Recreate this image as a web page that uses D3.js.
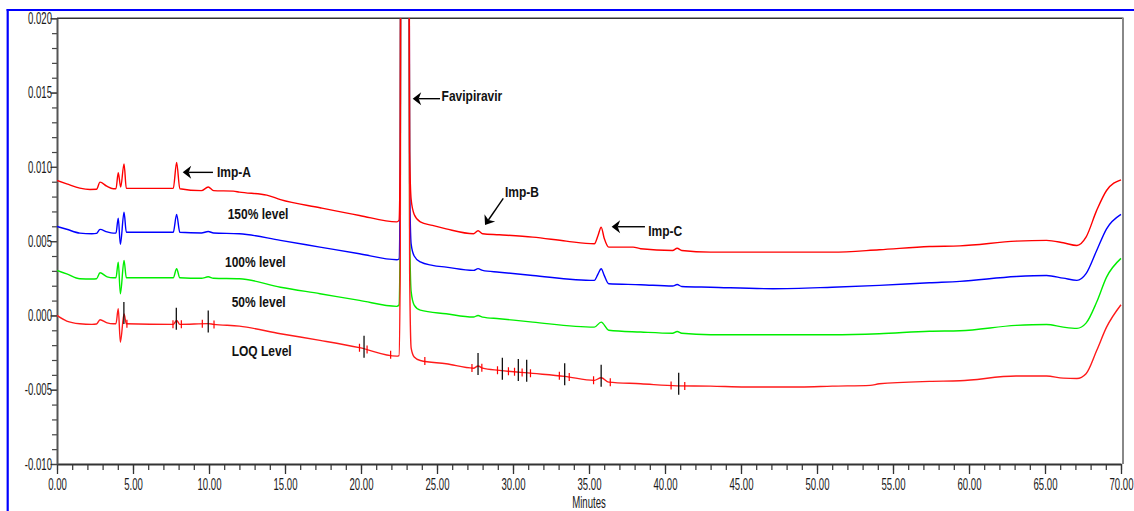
<!DOCTYPE html>
<html>
<head>
<meta charset="utf-8">
<script src="https://cdn.jsdelivr.net/npm/d3@7"></script>
<style>
  html, body { margin: 0; padding: 0; background: #fff; }
  svg { display: block; }
</style>
</head>
<body>
<svg id="chart" width="1134" height="511"></svg>
<script>
// Chromatograms: [retention time (min), absorbance (AU)]
const level150 = [
  [0, 0.00908], [0.64, 0.00886], [1.5, 0.00857], [2.17, 0.00848], [2.6, 0.00849],
  [2.83, 0.00897], [3.27, 0.0087], [3.7, 0.00853], [3.88, 0.00853], [4.03, 0.0096],
  [4.19, 0.00864], [4.41, 0.0102], [4.56, 0.00855], [7.65, 0.00855], [7.87, 0.0103],
  [8.08, 0.00853], [9.5, 0.0084], [9.95, 0.00864], [10.3, 0.0084], [11.6, 0.00837],
  [12.0, 0.0083], [13.8, 0.0081], [14.7, 0.0078], [17.3, 0.00725], [19.9, 0.00673],
  [22.35, 0.0063], [22.5, 0.0064], [22.58, 0.011], [22.65, 0.06], [23.1, 0.06],
  [23.2, 0.011], [23.3, 0.0078], [23.5, 0.0068], [23.9, 0.0063], [24.7, 0.00606],
  [25.6, 0.00583], [27.4, 0.0055], [27.7, 0.0057], [28.0, 0.0055], [29.1, 0.00543],
  [31.3, 0.00527], [33.5, 0.005], [35.35, 0.00482], [35.6, 0.0054], [35.8, 0.00594],
  [36.0, 0.0052], [36.3, 0.0046], [37.9, 0.0046], [38.4, 0.00449], [40.5, 0.00437],
  [40.8, 0.00452], [41.1, 0.00437], [43.0, 0.00426], [47.0, 0.00426], [51.0, 0.00426],
  [54.1, 0.00442], [57.4, 0.00464], [59.4, 0.00468], [63.1, 0.005], [65.1, 0.00505],
  [66.2, 0.00489], [67.1, 0.00471], [67.7, 0.00527], [68.4, 0.00707], [69.05, 0.00841],
  [70, 0.00913]
];
const level100 = [
  [0, 0.00599], [0.64, 0.0058], [1.5, 0.00554], [2.3, 0.0055], [2.6, 0.00552],
  [2.83, 0.00579], [3.3, 0.00562], [3.7, 0.00554], [3.88, 0.00554], [4.03, 0.00655],
  [4.17, 0.00478], [4.41, 0.00695], [4.56, 0.0056], [7.65, 0.0056], [7.87, 0.0068],
  [8.08, 0.0056], [9.5, 0.00555], [9.95, 0.00565], [10.3, 0.00555], [12.0, 0.0055],
  [14.7, 0.00505], [17.3, 0.0046], [19.9, 0.00415], [22.35, 0.00375], [22.5, 0.0038],
  [22.58, 0.009], [22.65, 0.06], [23.1, 0.06], [23.2, 0.009], [23.3, 0.0048],
  [23.5, 0.004], [23.9, 0.0036], [24.7, 0.00337], [25.6, 0.00325], [27.4, 0.00303],
  [27.7, 0.00315], [28.0, 0.00303], [29.1, 0.00291], [31.3, 0.00269], [35.35, 0.00236],
  [35.6, 0.0028], [35.8, 0.00314], [36.0, 0.0027], [36.3, 0.00213], [38.4, 0.00207],
  [40.5, 0.00198], [40.8, 0.00208], [41.1, 0.00195], [43.0, 0.0019], [47.1, 0.0018],
  [51.0, 0.0019], [54.1, 0.00202], [57.4, 0.0022], [59.4, 0.00229], [63.1, 0.00262],
  [65.1, 0.00269], [66.2, 0.00251], [67.1, 0.00236], [67.7, 0.00281], [68.4, 0.00437],
  [69.05, 0.00583], [70, 0.0068]
];
const level50 = [
  [0, 0.00303], [0.64, 0.0028], [1.5, 0.00247], [2.3, 0.00245], [2.6, 0.00247],
  [2.83, 0.00287], [3.3, 0.0026], [3.7, 0.00254], [3.88, 0.00254], [4.03, 0.00359],
  [4.17, 0.00146], [4.41, 0.0037], [4.56, 0.00254], [7.65, 0.00254], [7.87, 0.00314],
  [8.08, 0.00254], [9.5, 0.0025], [9.95, 0.0026], [10.3, 0.0025], [12.0, 0.00247],
  [14.7, 0.0019], [17.3, 0.00146], [19.9, 0.00101], [22.35, 0.00061], [22.5, 0.0007],
  [22.58, 0.006], [22.65, 0.06], [23.1, 0.06], [23.2, 0.006], [23.3, 0.0016],
  [23.5, 0.0007], [23.9, 0.00036], [25.6, 0.00011], [27.4, -0.00011], [27.7, 0.0],
  [28.0, -0.00011], [29.1, -0.00022], [31.3, -0.00045], [35.35, -0.00079], [35.8, -0.00045],
  [36.3, -0.001], [38.4, -0.00112], [40.5, -0.0012], [40.8, -0.00108], [41.1, -0.0012],
  [43.0, -0.0013], [51.0, -0.0013], [54.1, -0.00123], [57.4, -0.00106], [59.4, -0.00103],
  [63.1, -0.00067], [65.1, -0.00061], [66.2, -0.00079], [67.1, -0.00087], [67.7, -0.00052],
  [68.4, 0.0009], [69.05, 0.00258], [70, 0.00384]
];
const levelLOQ = [
  [0, 0.0], [0.64, -0.00038], [1.5, -0.00056], [2.3, -0.0006], [2.6, -0.00058],
  [2.83, -0.00029], [3.3, -0.0005], [3.7, -0.00056], [3.88, -0.00056], [4.03, 0.00045],
  [4.17, -0.0018], [4.41, 0.0001], [4.56, -0.00056], [7.65, -0.0006], [7.87, -0.00034],
  [8.08, -0.0006], [9.95, -0.00055], [10.3, -0.0006], [12.0, -0.00072], [14.7, -0.00123],
  [17.3, -0.00168], [19.9, -0.00217], [22.35, -0.00274], [22.5, -0.0027], [22.58, 0.003],
  [22.65, 0.06], [23.1, 0.06], [23.2, 0.003], [23.3, -0.0022], [23.5, -0.0028],
  [23.9, -0.00303], [25.6, -0.00325], [27.4, -0.00355], [27.7, -0.0034], [28.0, -0.00355],
  [29.1, -0.0037], [31.3, -0.0039], [33.4, -0.0041], [35.35, -0.00437], [35.8, -0.00419],
  [36.3, -0.00449], [38.4, -0.0046], [40.8, -0.00474], [43.0, -0.00476], [45.3, -0.00482],
  [48.9, -0.00482], [51.0, -0.00476], [53.5, -0.00471], [54.1, -0.0046], [57.4, -0.00444],
  [59.4, -0.0044], [63.1, -0.00408], [65.1, -0.00408], [66.2, -0.00422], [67.1, -0.00424],
  [67.7, -0.00392], [68.4, -0.00236], [69.05, -0.00079], [70, 0.00072]
];

// Axis ticks
const xTickValues = [0, 5, 10, 15, 20, 25, 30, 35, 40, 45, 50, 55, 60, 65, 70];
const yTickValues = [-0.010, -0.005, 0.000, 0.005, 0.010, 0.015, 0.020];

// Integration events on the LOQ run (retention times, min)
const apexMarks = [4.4, 7.85, 9.95, 20.2, 27.7, 29.3, 30.35, 30.9, 33.4, 35.8, 40.9];
const limitMarks = [4.6, 7.63, 8.18, 9.56, 10.33, 19.9, 20.4, 21.95, 24.2, 27.3, 27.95,
                    28.98, 29.7, 30.1, 30.6, 31.15, 33.05, 33.7, 35.3, 36.4, 40.4, 41.3];

// Peak call-outs: arrow tip, arrow tail and label anchor in (min, AU)
const peakNames = ["Imp-A", "Favipiravir", "Imp-B", "Imp-C"];
const peakTips  = [[8.27, 0.00963], [23.4, 0.01459], [28.16, 0.00609], [36.49, 0.00597]];
const peakTails = [[10.26, 0.00963], [25.2, 0.01459], [29.36, 0.00788], [38.68, 0.00597]];
const peakText  = [[10.52, 0.00931], [25.3, 0.01443], [29.47, 0.00797], [38.9, 0.00534]];

// Trace captions
const levelNames = ["150% level", "100% level", "50% level", "LOQ Level"];
const levelText  = [[11.23, 0.00647], [11.05, 0.00324], [11.49, 0.000545], [11.49, -0.0027]];

const svg = d3.select("#chart");
const x = d3.scaleLinear().domain([0, 70]).range([57, 1121]);
const y = d3.scaleLinear().domain([-0.010, 0.020]).range([464, 18.3]);

// outer blue frame
svg.append("line").attr("x1", 7.7).attr("x2", 7.7).attr("y1", 9).attr("y2", 511)
  .attr("stroke", "#0000ff").attr("stroke-width", 2.2);
svg.append("line").attr("x1", 6.6).attr("x2", 1134).attr("y1", 10).attr("y2", 10)
  .attr("stroke", "#0000ff").attr("stroke-width", 2.2);

// plot frame: top and right edges
svg.append("line").attr("x1", 57).attr("x2", 1123.5).attr("y1", 18.3).attr("y2", 18.3)
  .attr("stroke", "#333").attr("stroke-width", 1.5);
svg.append("line").attr("x1", 1123).attr("x2", 1123).attr("y1", 18).attr("y2", 464)
  .attr("stroke", "#888").attr("stroke-width", 2);

const fmt = d3.formatLocale({decimal: ".", thousands: ",", grouping: [3], currency: ["", ""], minus: "-"});
const yFmt = fmt.format(".3f");
const xFmt = fmt.format(".2f");

const K = 0.6; // condensed axis lettering

function condense(sel, k) {
  sel.each(function () {
    const t = d3.select(this);
    const xx = +t.attr("x") || 0;
    t.attr("x", xx / k).attr("transform", `scale(${k},1)`);
  });
}

// minor ticks
svg.append("g").attr("transform", "translate(0,464)")
  .call(d3.axisBottom(x).tickValues(d3.range(0, 71, 1)).tickSize(6).tickFormat(""))
  .call(g => g.select(".domain").remove())
  .call(g => g.selectAll("line").attr("stroke", "#333").attr("stroke-width", 1.2));
svg.append("g").attr("transform", "translate(57,0)")
  .call(d3.axisLeft(y).tickValues(d3.range(-10, 21, 1).map(d => d / 1000)).tickSize(5).tickFormat(""))
  .call(g => g.select(".domain").remove())
  .call(g => g.selectAll("line").attr("stroke", "#444").attr("stroke-width", 1.2));

// major axes
const xAxis = svg.append("g").attr("transform", "translate(0,464)")
  .call(d3.axisBottom(x).tickValues(xTickValues).tickFormat(xFmt).tickSize(10).tickSizeOuter(0).tickPadding(5));
xAxis.select(".domain").attr("stroke", "#333").attr("stroke-width", 2);
xAxis.selectAll("line").attr("stroke", "#333").attr("stroke-width", 1.3);
xAxis.selectAll("text").attr("font-family", "'Liberation Sans', Arial, sans-serif")
  .attr("font-size", 16).attr("fill", "#1a1a1a").call(condense, K);

const yAxis = svg.append("g").attr("transform", "translate(57,0)")
  .call(d3.axisLeft(y).tickValues(yTickValues).tickFormat(yFmt).tickSize(6.5).tickSizeOuter(0).tickPadding(-1.5));
yAxis.select(".domain").attr("stroke", "#555").attr("stroke-width", 2);
yAxis.selectAll("line").attr("stroke", "#444").attr("stroke-width", 1.3);
yAxis.selectAll("text").attr("font-family", "'Liberation Sans', Arial, sans-serif")
  .attr("font-size", 16).attr("fill", "#1a1a1a").call(condense, K);

svg.append("text")
  .attr("transform", `translate(${(x(0) + x(70)) / 2},507.5) scale(${K},1)`)
  .attr("text-anchor", "middle")
  .attr("font-family", "'Liberation Sans', Arial, sans-serif")
  .attr("font-size", 16).attr("fill", "#1a1a1a")
  .text("Minutes");

// chromatogram traces
svg.append("clipPath").attr("id", "plot-clip")
  .append("rect").attr("x", 57).attr("y", 18.3).attr("width", 1066).attr("height", 446);

const line = d3.line().x(d => x(d[0])).y(d => y(d[1])).curve(d3.curveMonotoneX);
const traces = svg.append("g").attr("clip-path", "url(#plot-clip)");
const series = [
  {data: level50, color: "#00ee00"},
  {data: level100, color: "#0000ff"},
  {data: levelLOQ, color: "#ff1a1a"},
  {data: level150, color: "#ff0000"}
];
traces.selectAll("path").data(series).join("path")
  .attr("d", d => line(d.data))
  .attr("fill", "none")
  .attr("stroke", d => d.color)
  .attr("stroke-width", 1.4)
  .attr("stroke-linejoin", "round");

// integration marks on the LOQ run
const bis = d3.bisector(d => d[0]).left;
function loqAt(t) {
  const i = Math.max(1, Math.min(levelLOQ.length - 1, bis(levelLOQ, t)));
  const a = levelLOQ[i - 1], b = levelLOQ[i];
  return a[1] + (b[1] - a[1]) * (t - a[0]) / (b[0] - a[0]);
}
traces.selectAll("line.limit").data(limitMarks).join("line").attr("class", "limit")
  .attr("x1", d => x(d)).attr("x2", d => x(d))
  .attr("y1", d => y(loqAt(d)) - 4).attr("y2", d => y(loqAt(d)) + 4)
  .attr("stroke", "#ff0000").attr("stroke-width", 1.2);
traces.selectAll("line.apex").data(apexMarks).join("line").attr("class", "apex")
  .attr("x1", d => x(d)).attr("x2", d => x(d))
  .attr("y1", d => y(loqAt(d)) - 13).attr("y2", d => y(loqAt(d)) + 9)
  .attr("stroke", "#111").attr("stroke-width", 1.3);

// peak call-outs
const labelFont = "'Liberation Sans', Arial, sans-serif";
peakNames.forEach((name, i) => {
  const tip = [x(peakTips[i][0]), y(peakTips[i][1])];
  const tail = [x(peakTails[i][0]), y(peakTails[i][1])];
  const dx = tail[0] - tip[0], dy = tail[1] - tip[1];
  const len = Math.hypot(dx, dy);
  const ux = dx / len, uy = dy / len, px = -uy, py = ux;
  const L = 8.5, W = 6.5, N = 6;
  svg.append("line")
    .attr("x1", tip[0] + ux * N).attr("y1", tip[1] + uy * N)
    .attr("x2", tail[0]).attr("y2", tail[1])
    .attr("stroke", "#000").attr("stroke-width", 1.4);
  svg.append("path")
    .attr("d", `M${tip[0]},${tip[1]}` +
      `L${tip[0] + ux * L + px * W},${tip[1] + uy * L + py * W}` +
      `L${tip[0] + ux * N},${tip[1] + uy * N}` +
      `L${tip[0] + ux * L - px * W},${tip[1] + uy * L - py * W}Z`)
    .attr("fill", "#000");
  svg.append("text")
    .attr("transform", `translate(${x(peakText[i][0])},${y(peakText[i][1])}) scale(0.8,1)`)
    .attr("font-family", labelFont).attr("font-weight", "bold")
    .attr("font-size", 15).attr("fill", "#111")
    .text(name);
});

levelNames.forEach((name, i) => {
  svg.append("text")
    .attr("transform", `translate(${x(levelText[i][0])},${y(levelText[i][1])}) scale(0.8,1)`)
    .attr("font-family", labelFont).attr("font-weight", "bold")
    .attr("font-size", 15).attr("fill", "#111")
    .text(name);
});
</script>
</body>
</html>
